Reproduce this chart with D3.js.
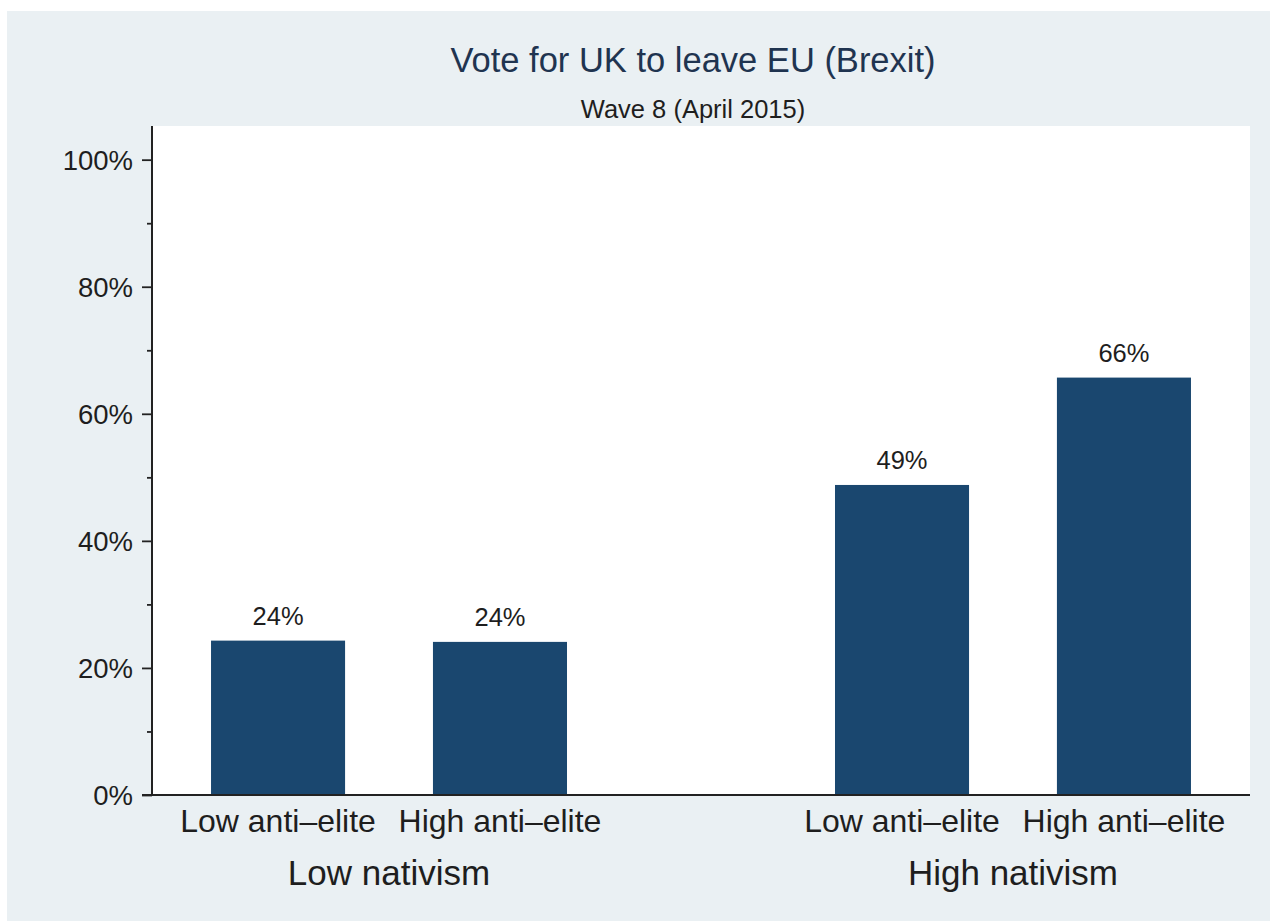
<!DOCTYPE html>
<html>
<head>
<meta charset="utf-8">
<script src="https://cdn.jsdelivr.net/npm/d3@7"></script>
<style>
  html, body { margin: 0; padding: 0; background: #ffffff; }
  svg { display: block; }
  text { font-family: "Liberation Sans", Arial, Helvetica, sans-serif; }
</style>
</head>
<body>
<svg id="chart" width="1276" height="921"></svg>
<script>
// ---- data ----
const groups = ["Low nativism", "High nativism"];
const subgroups = ["Low anti\u2013elite", "High anti\u2013elite"];
const lowNativism = [24.3, 24.1];
const highNativism = [48.8, 65.7];
const barLabels = ["24%", "24%", "49%", "66%"];
const yTicks = [0, 20, 40, 60, 80, 100];
const yMinorTicks = [10, 30, 50, 70, 90];
const titleText = "Vote for UK to leave EU (Brexit)";
const subtitleText = "Wave 8 (April 2015)";

const seriesByGroup = [lowNativism, highNativism];
const bars = [];
groups.forEach((g, gi) => subgroups.forEach((s, si) => {
  bars.push({ group: g, sub: s, value: seriesByGroup[gi][si], label: barLabels[gi * subgroups.length + si] });
}));

// ---- layout ----
const W = 1276, H = 921;
const plot = { left: 152, right: 1250, top: 126, bottom: 795 };
const svg = d3.select("#chart");

// outer background (graph region)
svg.append("rect").attr("x", 7).attr("y", 11).attr("width", 1263).attr("height", H - 11)
  .attr("fill", "#eaf0f3");
// plot region
svg.append("rect").attr("x", plot.left).attr("y", plot.top)
  .attr("width", plot.right - plot.left).attr("height", plot.bottom - plot.top)
  .attr("fill", "#ffffff");

// scales
const y = d3.scaleLinear().domain([0, 105.3]).range([plot.bottom, plot.top]);
const x0 = d3.scaleBand().domain(groups).range([plot.left, plot.right])
  .paddingInner(0.4295).paddingOuter(0.0946);
const x1 = d3.scaleBand().domain(subgroups).range([0, x0.bandwidth()])
  .paddingInner(0.396).paddingOuter(0);

// bars
svg.append("g").selectAll("rect").data(bars).join("rect")
  .attr("x", d => x0(d.group) + x1(d.sub))
  .attr("y", d => y(d.value))
  .attr("width", x1.bandwidth())
  .attr("height", d => y(0) - y(d.value))
  .attr("fill", "#1a476f");

// bar value labels
svg.append("g").selectAll("text").data(bars).join("text")
  .attr("x", d => x0(d.group) + x1(d.sub) + x1.bandwidth() / 2)
  .attr("y", d => y(d.value) - 16)
  .attr("text-anchor", "middle")
  .attr("font-size", 25.5)
  .attr("fill", "#1e1e1e")
  .text(d => d.label);

// y axis (major)
const yAxis = d3.axisLeft(y).tickValues(yTicks).tickSize(10).tickPadding(9)
  .tickFormat(d => d + "%");
const gy = svg.append("g").attr("transform", `translate(${plot.left},0)`).call(yAxis);
gy.select(".domain").remove();
gy.selectAll(".tick line").attr("stroke", "#222").attr("stroke-width", 1.8);
gy.selectAll(".tick text").attr("font-size", 27.5).attr("fill", "#1e1e1e")
  .attr("font-family", "'Liberation Sans', Arial, sans-serif").attr("dy", "0.35em");
// y axis (minor)
const yMinor = d3.axisLeft(y).tickValues(yMinorTicks).tickSize(5).tickFormat("");
const gym = svg.append("g").attr("transform", `translate(${plot.left},0)`).call(yMinor);
gym.select(".domain").remove();
gym.selectAll(".tick line").attr("stroke", "#222").attr("stroke-width", 1.8);

// axis lines
svg.append("line").attr("x1", plot.left).attr("x2", plot.left)
  .attr("y1", plot.top).attr("y2", plot.bottom)
  .attr("stroke", "#222").attr("stroke-width", 2);
svg.append("line").attr("x1", plot.left - 10).attr("x2", plot.right)
  .attr("y1", plot.bottom).attr("y2", plot.bottom)
  .attr("stroke", "#222").attr("stroke-width", 2);

// x category labels
svg.append("g").selectAll("text").data(bars).join("text")
  .attr("x", d => x0(d.group) + x1(d.sub) + x1.bandwidth() / 2)
  .attr("y", plot.bottom + 37)
  .attr("text-anchor", "middle")
  .attr("font-size", 32)
  .attr("fill", "#1e1e1e")
  .text(d => d.sub);

// group labels
svg.append("g").selectAll("text").data(groups).join("text")
  .attr("x", d => x0(d) + x0.bandwidth() / 2)
  .attr("y", plot.bottom + 90)
  .attr("text-anchor", "middle")
  .attr("font-size", 35)
  .attr("fill", "#1e1e1e")
  .text(d => d);

// titles
svg.append("text").attr("x", 693).attr("y", 72).attr("text-anchor", "middle")
  .attr("font-size", 34.5).attr("fill", "#1f3450").text(titleText);
svg.append("text").attr("x", 693).attr("y", 118).attr("text-anchor", "middle")
  .attr("font-size", 25.5).attr("fill", "#1e1e1e").text(subtitleText);
</script>
</body>
</html>
